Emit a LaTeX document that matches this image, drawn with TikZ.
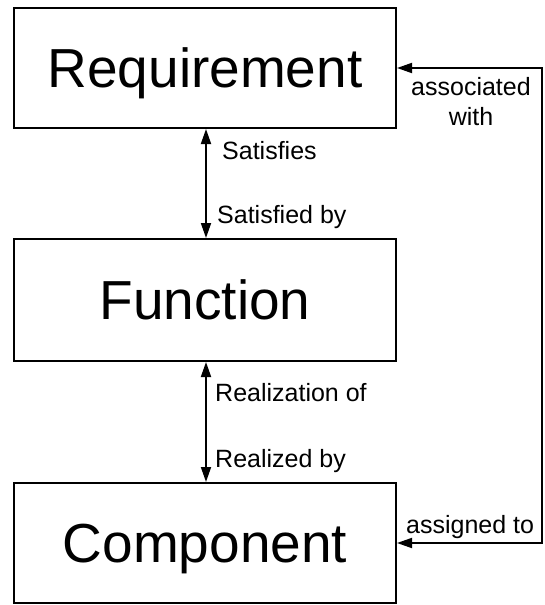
\documentclass[tikz,border=0pt]{standalone}
\usepackage{fontspec}
\setmainfont{Liberation Sans}
\usetikzlibrary{arrows.meta}
\begin{document}
\begin{tikzpicture}[x=1pt,y=-1pt,
  block/.style={draw,line width=2pt,minimum width=382pt,inner sep=0pt,
    font=\fontsize{55}{60}\selectfont,text height=39pt,text depth=0pt},
  lbl/.style={inner sep=0pt,font=\fontsize{25}{28}\selectfont},
  link/.style={line width=1.8pt,{Triangle[length=15pt,width=10pt]}-{Triangle[length=15pt,width=10pt]}}]
\useasboundingbox (0,0) rectangle (545,605);
% the three boxes
\node[block,minimum height=120pt] (req) at (205,68) {Requirement};
\node[block,minimum height=122pt] (fun) at (205,300) {Function};
\node[block,minimum height=120pt] (com) at (205,543) {Component};
% vertical relations
\draw[link] ([xshift=1pt]req.south) -- ([xshift=1pt]fun.north);
\draw[link] ([xshift=1pt]fun.south) -- ([xshift=1pt]com.north);
% loop on the right
\draw[link] (com.east) -- ++(145,0) |- (req.east);
% labels
\node[lbl,anchor=base west] (l1) at (222,159) {Satisfies};
\node[lbl,anchor=base west] (l2) at (217,223) {Satisfied by};
\node[lbl,anchor=base west] (l3) at (215,401) {Realization of};
\node[lbl,anchor=base west] (l4) at (215,467) {Realized by};
\node[lbl,anchor=base] (l5) at (471,95) {associated};
\node[lbl,anchor=base] (l6) at (471,125) {with};
\node[lbl,anchor=base west] (l7) at (406,533) {assigned to};
\end{tikzpicture}
\end{document}
